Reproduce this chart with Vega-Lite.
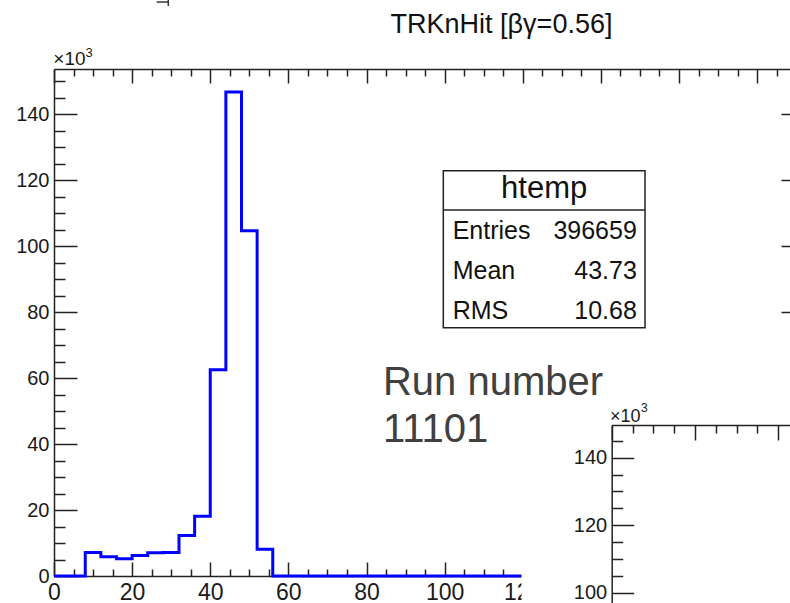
{
  "$schema": "https://vega.github.io/schema/vega-lite/v6.json",
  "width": 750,
  "height": 507,
  "autosize": "none",
  "padding": {"left": 54, "top": 69, "right": -14, "bottom": 27},
  "background": "white",
  "config": {
    "view": {"stroke": null},
    "font": "Liberation Sans",
    "axis": {
      "grid": false,
      "domainColor": "#222",
      "tickColor": "#222",
      "domainWidth": 1.5,
      "tickWidth": 1.5,
      "labelFont": "Liberation Sans",
      "labelColor": "#1a1a1a",
      "titleFont": "Liberation Sans",
      "titleFontWeight": "normal",
      "titleColor": "#1a1a1a",
      "labelOverlap": false,
      "labelFlush": false
    }
  },
  "datasets": {
    "hist": [
      {"lo": 0, "count": 0}, {"lo": 4, "count": 0}, {"lo": 8, "count": 7150},
      {"lo": 12, "count": 5850}, {"lo": 16, "count": 5250}, {"lo": 20, "count": 6250},
      {"lo": 24, "count": 7050}, {"lo": 28, "count": 7100}, {"lo": 32, "count": 12300},
      {"lo": 36, "count": 18100}, {"lo": 40, "count": 62500}, {"lo": 44, "count": 146700},
      {"lo": 48, "count": 104600}, {"lo": 52, "count": 8100}, {"lo": 56, "count": 0},
      {"lo": 60, "count": 0}, {"lo": 64, "count": 0}, {"lo": 68, "count": 0},
      {"lo": 72, "count": 0}, {"lo": 76, "count": 0}, {"lo": 80, "count": 0},
      {"lo": 84, "count": 0}, {"lo": 88, "count": 0}, {"lo": 92, "count": 0},
      {"lo": 96, "count": 0}, {"lo": 100, "count": 0}, {"lo": 104, "count": 0},
      {"lo": 108, "count": 0}, {"lo": 112, "count": 0}, {"lo": 116, "count": 0},
      {"lo": 120, "count": 0}, {"lo": 124, "count": 0}, {"lo": 128, "count": 0},
      {"lo": 132, "count": 0}, {"lo": 136, "count": 0}, {"lo": 140, "count": 0},
      {"lo": 144, "count": 0}, {"lo": 148, "count": 0}, {"lo": 152, "count": 0},
      {"lo": 156, "count": 0}, {"lo": 160, "count": 0}, {"lo": 164, "count": 0},
      {"lo": 168, "count": 0}, {"lo": 172, "count": 0}, {"lo": 176, "count": 0},
      {"lo": 180, "count": 0}, {"lo": 184, "count": 0}, {"lo": 188, "count": 0}
    ],
    "stats": [
      {"stat": "Entries", "value": "396659"},
      {"stat": "Mean", "value": "43.73"},
      {"stat": "RMS", "value": "10.68"}
    ],
    "one": [{}]
  },
  "resolve": {
    "scale": {"x": "independent", "y": "independent"},
    "axis": {"x": "independent", "y": "independent"}
  },
  "layer": [
    {
      "data": {"name": "hist"},
      "mark": {"type": "line", "interpolate": "step-after", "color": "#0000ff", "strokeWidth": 3},
      "encoding": {
        "x": {
          "field": "lo", "type": "quantitative",
          "scale": {"domain": [0, 192], "nice": false, "zero": false},
          "axis": {
            "orient": "bottom",
            "values": [0,5,10,15,20,25,30,35,40,45,50,55,60,65,70,75,80,85,90,95,100,105,110,115,120,125,130,135,140,145,150,155,160,165,170,175,180,185,190],
            "tickSize": {"condition": {"test": "datum.value % 20 === 0", "value": -14}, "value": -7},
            "labelExpr": "datum.value % 20 === 0 && datum.value <= 120 ? datum.label : ''",
            "labelFontSize": 23,
            "labelPadding": 19,
            "title": null
          }
        },
        "y": {
          "field": "count", "type": "quantitative",
          "scale": {"domain": [0, 153640], "nice": false, "zero": false},
          "axis": {
            "orient": "left",
            "values": [0,5000,10000,15000,20000,25000,30000,35000,40000,45000,50000,55000,60000,65000,70000,75000,80000,85000,90000,95000,100000,105000,110000,115000,120000,125000,130000,135000,140000,145000,150000],
            "tickSize": {"condition": {"test": "datum.value % 20000 === 0", "value": -23}, "value": -11},
            "labelExpr": "datum.value % 20000 === 0 ? format(datum.value / 1000, 'd') : ''",
            "labelFontSize": 20,
            "labelPadding": 28,
            "title": null
          }
        }
      }
    },
    {
      "data": {"name": "hist"},
      "mark": {"type": "line", "interpolate": "step-after", "opacity": 0},
      "encoding": {
        "x": {
          "field": "lo", "type": "quantitative",
          "scale": {"domain": [0, 192], "nice": false, "zero": false},
          "axis": {
            "orient": "top",
            "values": [0,5,10,15,20,25,30,35,40,45,50,55,60,65,70,75,80,85,90,95,100,105,110,115,120,125,130,135,140,145,150,155,160,165,170,175,180,185,190],
            "tickSize": {"condition": {"test": "datum.value % 20 === 0", "value": -14}, "value": -7},
            "labels": false,
            "title": null
          }
        },
        "y": {
          "field": "count", "type": "quantitative",
          "scale": {"domain": [0, 153640], "nice": false, "zero": false},
          "axis": {
            "orient": "right",
            "values": [0,5000,10000,15000,20000,25000,30000,35000,40000,45000,50000,55000,60000,65000,70000,75000,80000,85000,90000,95000,100000,105000,110000,115000,120000,125000,130000,135000,140000,145000,150000],
            "tickSize": {"condition": {"test": "datum.value % 20000 === 0", "value": -23}, "value": -11},
            "labels": false,
            "title": null
          }
        }
      }
    },
    {
      "data": {"name": "one"},
      "mark": {"type": "text", "text": "×10", "align": "left", "baseline": "alphabetic", "fontSize": 19, "color": "#1a1a1a"},
      "encoding": {
        "x": {"datum": -0.18, "type": "quantitative", "scale": {"domain": [0, 192], "nice": false, "zero": false}, "axis": null},
        "y": {"datum": 154848, "type": "quantitative", "scale": {"domain": [0, 153640], "nice": false, "zero": false}, "axis": null}
      }
    },
    {
      "data": {"name": "one"},
      "mark": {"type": "text", "text": "3", "align": "left", "baseline": "alphabetic", "fontSize": 13, "color": "#1a1a1a"},
      "encoding": {
        "x": {"datum": 8.06, "type": "quantitative", "scale": {"domain": [0, 192], "nice": false, "zero": false}, "axis": null},
        "y": {"datum": 157364, "type": "quantitative", "scale": {"domain": [0, 153640], "nice": false, "zero": false}, "axis": null}
      }
    },
    {
      "data": {"name": "one"},
      "mark": {"type": "rule", "stroke": "#333", "strokeWidth": 1.5},
      "encoding": {
        "x": {"datum": 26.29, "type": "quantitative", "scale": {"domain": [0, 192], "nice": false, "zero": false}, "axis": null},
        "x2": {"datum": 29.26},
        "y": {"datum": 173939, "type": "quantitative", "scale": {"domain": [0, 153640], "nice": false, "zero": false}, "axis": null}
      }
    },
    {
      "data": {"name": "one"},
      "mark": {"type": "rule", "stroke": "#333", "strokeWidth": 1.5},
      "encoding": {
        "x": {"datum": 29.26, "type": "quantitative", "scale": {"domain": [0, 192], "nice": false, "zero": false}, "axis": null},
        "y": {"datum": 174545, "type": "quantitative", "scale": {"domain": [0, 153640], "nice": false, "zero": false}, "axis": null},
        "y2": {"datum": 172727}
      }
    },
    {
      "data": {"name": "one"},
      "mark": {"type": "rect", "fill": "white"},
      "encoding": {
        "x": {"datum": 119.68, "type": "quantitative", "scale": {"domain": [0, 192], "nice": false, "zero": false}, "axis": null},
        "x2": {"datum": 215},
        "y": {"datum": 70000, "type": "quantitative", "scale": {"domain": [0, 153640], "nice": false, "zero": false}, "axis": null},
        "y2": {"datum": -11000}
      }
    },
    {
      "data": {"name": "one"},
      "mark": {"type": "rect", "fill": "white", "stroke": "#222", "strokeWidth": 1.5},
      "encoding": {
        "x": {"datum": 99.66, "type": "quantitative", "scale": {"domain": [0, 192], "nice": false, "zero": false}, "axis": null},
        "x2": {"datum": 151.3},
        "y": {"datum": 122818, "type": "quantitative", "scale": {"domain": [0, 153640], "nice": false, "zero": false}, "axis": null},
        "y2": {"datum": 75242}
      }
    },
    {
      "data": {"name": "one"},
      "mark": {"type": "rule", "stroke": "#222", "strokeWidth": 1.5},
      "encoding": {
        "x": {"datum": 99.66, "type": "quantitative", "scale": {"domain": [0, 192], "nice": false, "zero": false}, "axis": null},
        "x2": {"datum": 151.3},
        "y": {"datum": 110909, "type": "quantitative", "scale": {"domain": [0, 153640], "nice": false, "zero": false}, "axis": null}
      }
    },
    {
      "data": {"name": "stats"},
      "mark": {"type": "text", "align": "left", "baseline": "middle", "fontSize": 25, "color": "#111"},
      "encoding": {
        "x": {"datum": 102.06, "type": "quantitative", "scale": {"domain": [0, 192], "nice": false, "zero": false}, "axis": null},
        "y": {"field": "stat", "type": "ordinal", "scale": {"type": "point", "domain": ["Entries", "Mean", "RMS"], "range": [162, 242], "padding": 0}, "axis": null},
        "text": {"field": "stat"}
      }
    },
    {
      "data": {"name": "stats"},
      "mark": {"type": "text", "align": "right", "baseline": "middle", "fontSize": 25, "color": "#111"},
      "encoding": {
        "x": {"datum": 149.2, "type": "quantitative", "scale": {"domain": [0, 192], "nice": false, "zero": false}, "axis": null},
        "y": {"field": "stat", "type": "ordinal", "scale": {"type": "point", "domain": ["Entries", "Mean", "RMS"], "range": [162, 242], "padding": 0}, "axis": null},
        "text": {"field": "value"}
      }
    },
    {
      "data": {"name": "one"},
      "mark": {"type": "text", "text": "htemp", "align": "center", "baseline": "alphabetic", "fontSize": 31, "color": "#111"},
      "encoding": {
        "x": {"datum": 125.49, "type": "quantitative", "scale": {"domain": [0, 192], "nice": false, "zero": false}, "axis": null},
        "y": {"datum": 114545, "type": "quantitative", "scale": {"domain": [0, 153640], "nice": false, "zero": false}, "axis": null}
      }
    },
    {
      "data": {"name": "one"},
      "mark": {"type": "text", "text": "TRKnHit [βγ=0.56]", "align": "center", "baseline": "alphabetic", "fontSize": 27, "color": "#111"},
      "encoding": {
        "x": {"datum": 114.56, "type": "quantitative", "scale": {"domain": [0, 192], "nice": false, "zero": false}, "axis": null},
        "y": {"datum": 164455, "type": "quantitative", "scale": {"domain": [0, 153640], "nice": false, "zero": false}, "axis": null}
      }
    },
    {
      "data": {"name": "one"},
      "mark": {"type": "text", "text": ["Run number", "11101"], "align": "left", "baseline": "alphabetic", "fontSize": 40, "lineHeight": 46.7, "color": "#404040"},
      "encoding": {
        "x": {"datum": 84.22, "type": "quantitative", "scale": {"domain": [0, 192], "nice": false, "zero": false}, "axis": null},
        "y": {"datum": 54848, "type": "quantitative", "scale": {"domain": [0, 153640], "nice": false, "zero": false}, "axis": null}
      }
    },
    {
      "data": {"name": "one"},
      "mark": {"type": "text", "text": "×10", "align": "left", "baseline": "alphabetic", "fontSize": 18, "color": "#1a1a1a"},
      "encoding": {
        "x": {"datum": 142.34, "type": "quantitative", "scale": {"domain": [0, 192], "nice": false, "zero": false}, "axis": null},
        "y": {"datum": 46758, "type": "quantitative", "scale": {"domain": [0, 153640], "nice": false, "zero": false}, "axis": null}
      }
    },
    {
      "data": {"name": "one"},
      "mark": {"type": "text", "text": "3", "align": "left", "baseline": "alphabetic", "fontSize": 12, "color": "#1a1a1a"},
      "encoding": {
        "x": {"datum": 150.27, "type": "quantitative", "scale": {"domain": [0, 192], "nice": false, "zero": false}, "axis": null},
        "y": {"datum": 49788, "type": "quantitative", "scale": {"domain": [0, 153640], "nice": false, "zero": false}, "axis": null}
      }
    },
    {
      "data": {"name": "hist"},
      "mark": {"type": "line", "interpolate": "step-after", "opacity": 0},
      "encoding": {
        "x": {
          "field": "lo", "type": "quantitative",
          "scale": {"domain": [0, 42.81], "range": [557.7, 736], "nice": false, "zero": false},
          "axis": {
            "orient": "top",
            "offset": -356,
            "zindex": 1,
            "values": [0,5,10,15,20,25,30,35,40],
            "tickSize": {"condition": {"test": "datum.value % 20 === 0", "value": -15}, "value": -8},
            "labels": false,
            "title": null
          }
        },
        "y": {
          "field": "count", "type": "quantitative",
          "scale": {"domain": [96950, 149690], "range": [534, 356], "nice": false, "zero": false},
          "axis": {
            "orient": "left",
            "offset": -557.7,
            "zindex": 1,
            "values": [100000,105000,110000,115000,120000,125000,130000,135000,140000,145000],
            "tickSize": {"condition": {"test": "datum.value % 20000 === 0", "value": -22}, "value": -11},
            "labelExpr": "datum.value % 20000 === 0 ? format(datum.value / 1000, 'd') : ''",
            "labelFontSize": 20,
            "labelPadding": 27,
            "title": null
          }
        }
      }
    }
  ]
}
